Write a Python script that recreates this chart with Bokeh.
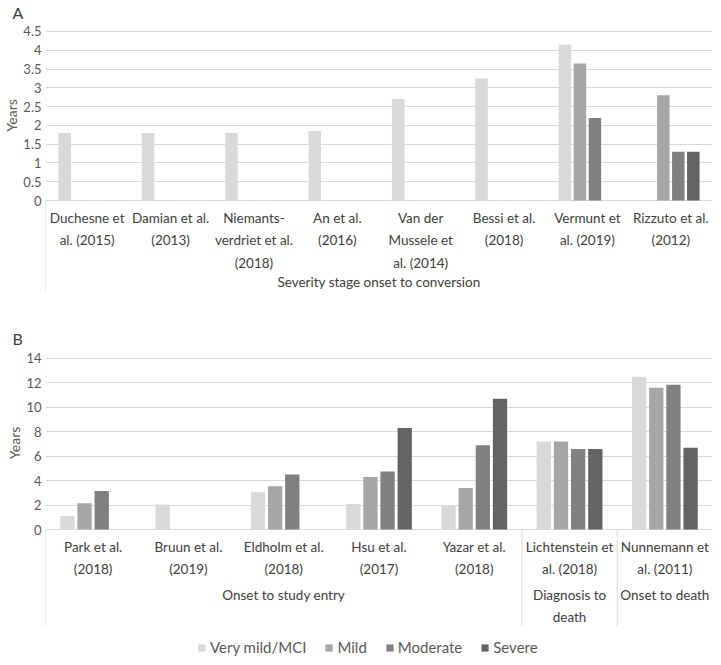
from bokeh.plotting import figure
from bokeh.models import (Range1d, FixedTicker, CustomJSTickFormatter, Legend,
                          LegendItem, ColumnDataSource)
from bokeh.layouts import column
from bokeh.core.properties import value
from bokeh.embed import file_html
from bokeh.resources import INLINE

# ---------------- data ----------------
series_names = ["Very mild/MCI", "Mild", "Moderate", "Severe"]
series_colors = ["#d9d9d9", "#a6a6a6", "#808080", "#636363"]

studies_a = ["Duchesne et\nal. (2015)", "Damian et al.\n(2013)",
             "Niemants-\nverdriet et al.\n(2018)", "An et al.\n(2016)",
             "Van der\nMussele et\nal. (2014)", "Bessi et al.\n(2018)",
             "Vermunt et\nal. (2019)", "Rizzuto et al.\n(2012)"]
groups_a = ["Severity stage onset to conversion"]
group_sizes_a = [8]
very_mild_a = [1.8, 1.8, 1.8, 1.85, 2.7, 3.25, 4.15, None]
mild_a = [None, None, None, None, None, None, 3.65, 2.8]
moderate_a = [None, None, None, None, None, None, 2.2, 1.3]
severe_a = [None, None, None, None, None, None, None, 1.3]
ticks_a = [0, 0.5, 1, 1.5, 2, 2.5, 3, 3.5, 4, 4.5]

studies_b = ["Park et al.\n(2018)", "Bruun et al.\n(2019)",
             "Eldholm et al.\n(2018)", "Hsu et al.\n(2017)",
             "Yazar et al.\n(2018)", "Lichtenstein et\nal. (2018)",
             "Nunnemann et\nal. (2011)"]
groups_b = ["Onset to study entry", "Diagnosis to\ndeath", "Onset to death"]
group_sizes_b = [5, 1, 1]
very_mild_b = [1.1, 2.05, 3.05, 2.1, 1.95, 7.2, 12.5]
mild_b = [2.15, None, 3.55, 4.3, 3.4, 7.2, 11.6]
moderate_b = [3.15, None, 4.5, 4.75, 6.9, 6.6, 11.85]
severe_b = [None, None, None, 8.3, 10.7, 6.6, 6.7]
ticks_b = [0, 2, 4, 6, 8, 10, 12, 14]

FONT = "Lato"
TXT = "#404040"
AX = "#595959"
GRID = "#d9d9d9"
WIDTH = 712
LEFT = 42       # left border of every figure (room for the value axis)
TITLE_H = 20    # height of the title panel of the bar figures
BELOW0 = 9      # plot area kept below the zero line in the bar figures
OFFSETS = [-0.27, -0.09, 0.09, 0.27]
BAR_W = 0.15
LABEL_SIZE = "13.5px"


def group_bounds(sizes):
    b = [0]
    for s in sizes:
        b.append(b[-1] + s)
    return b


def base_figure(n, height, y_range, **kw):
    p = figure(width=WIDTH, height=height, x_range=Range1d(0, n),
               y_range=y_range, x_axis_location=None, output_backend="svg",
               toolbar_location=None, min_border_left=LEFT,
               min_border_right=0, min_border_top=0, min_border_bottom=0,
               **kw)
    p.outline_line_color = None
    p.xgrid.grid_line_color = None
    return p


def bars_figure(letter, series, ticks, n, sizes, head_px, value_px):
    ymax = ticks[-1]
    ppu = value_px / ymax
    height = TITLE_H + head_px + value_px + BELOW0
    p = base_figure(n, height,
                    Range1d(-BELOW0 / ppu, ymax + head_px / ppu))

    p.title.text = letter
    p.title.text_font = FONT
    p.title.text_font_size = "16px"
    p.title.text_font_style = "normal"
    p.title.text_color = TXT
    p.title.align = "left"
    p.title.offset = -33
    p.title.standoff = 0

    ax = p.yaxis[0]
    ax.ticker = FixedTicker(ticks=ticks)
    ax.formatter = CustomJSTickFormatter(code="return tick.toString()")
    ax.axis_line_color = None
    ax.major_tick_line_color = None
    ax.minor_tick_line_color = None
    ax.major_tick_out = 0
    ax.major_tick_in = 0
    ax.minor_tick_out = 0
    ax.minor_tick_in = 0
    ax.major_label_text_font = FONT
    ax.major_label_text_font_size = "13px"
    ax.major_label_text_color = AX
    ax.major_label_standoff = 4
    ax.axis_label = "Years"
    ax.axis_label_text_font = FONT
    ax.axis_label_text_font_size = "14px"
    ax.axis_label_text_font_style = "normal"
    ax.axis_label_text_color = AX
    ax.axis_label_standoff = 0
    p.ygrid.ticker = FixedTicker(ticks=ticks)
    p.ygrid.grid_line_color = GRID
    p.ygrid.grid_line_width = 1

    # top of the separator lines of the category box
    b = group_bounds(sizes)
    p.segment(x0=b, x1=b, y0=[0] * len(b), y1=[-BELOW0 / ppu] * len(b),
              line_color=GRID, line_width=1)

    sources = []
    for k, vals in enumerate(series):
        xs = [i + 0.5 + OFFSETS[k] for i, v in enumerate(vals) if v is not None]
        tops = [v for v in vals if v is not None]
        src = ColumnDataSource(dict(x=xs, top=tops))
        p.vbar(x="x", top="top", bottom=0, width=BAR_W, source=src,
               fill_color=series_colors[k], line_color=None)
        sources.append(src)
    return p, sources


def cats_figure(studies, groups, sizes, height, sep_px, label_off, group_off,
                legend_sources=None):
    """Category box under a bar figure; y runs in pixels down from its top."""
    n = len(studies)
    p = base_figure(n, height, Range1d(-height, 0), y_axis_location=None)
    p.grid.grid_line_color = None

    b = group_bounds(sizes)
    p.segment(x0=b, x1=b, y0=[0] * len(b), y1=[-sep_px] * len(b),
              line_color=GRID, line_width=1)

    lsrc = ColumnDataSource(dict(x=[i + 0.5 for i in range(n)], y=[0] * n,
                                 t=studies))
    p.text(x="x", y="y", text="t", source=lsrc, text_align="center",
           text_baseline="top", y_offset=label_off,
           text_font=value(FONT), text_font_size=LABEL_SIZE, text_color=TXT,
           text_line_height=1.42)
    gx = [(b[j] + b[j + 1]) / 2 for j in range(len(sizes))]
    gsrc = ColumnDataSource(dict(x=gx, y=[0] * len(gx), t=groups))
    p.text(x="x", y="y", text="t", source=gsrc, text_align="center",
           text_baseline="top", y_offset=group_off,
           text_font=value(FONT), text_font_size=LABEL_SIZE, text_color=TXT,
           text_line_height=1.42)

    if legend_sources:
        # legend swatches: the same bar series (they fall above this box,
        # outside its visible range, so only the legend shows them)
        items = []
        for k, src in enumerate(legend_sources):
            r = p.vbar(x="x", top="top", bottom=0, width=BAR_W, source=src,
                       fill_color=series_colors[k], line_color=None)
            items.append(LegendItem(label=series_names[k], renderers=[r]))
        lg = Legend(items=items, orientation="horizontal",
                    location=(152, 1),
                    border_line_color=None, background_fill_alpha=0,
                    label_text_font=FONT, label_text_font_size="15px",
                    label_text_color=AX, glyph_width=9, glyph_height=9,
                    label_standoff=4, spacing=18, padding=0, margin=0,
                    label_height=16)
        p.add_layout(lg)
    return p


pa_bars, _ = bars_figure("A", [very_mild_a, mild_a, moderate_a, severe_a],
                         ticks_a, len(studies_a), group_sizes_a,
                         head_px=10, value_px=170)
pa_cats = cats_figure(studies_a, groups_a, group_sizes_a, height=117,
                      sep_px=83, label_off=0, group_off=64)
pb_bars, src_b = bars_figure("B", [very_mild_b, mild_b, moderate_b, severe_b],
                             ticks_b, len(studies_b), group_sizes_b,
                             head_px=11, value_px=172)
pb_cats = cats_figure(studies_b, groups_b, group_sizes_b, height=119,
                      sep_px=88, label_off=0, group_off=48,
                      legend_sources=src_b)

layout = column(pa_bars, pa_cats, pb_bars, pb_cats, spacing=0)
open("out.html", "w").write(file_html(layout, INLINE))
